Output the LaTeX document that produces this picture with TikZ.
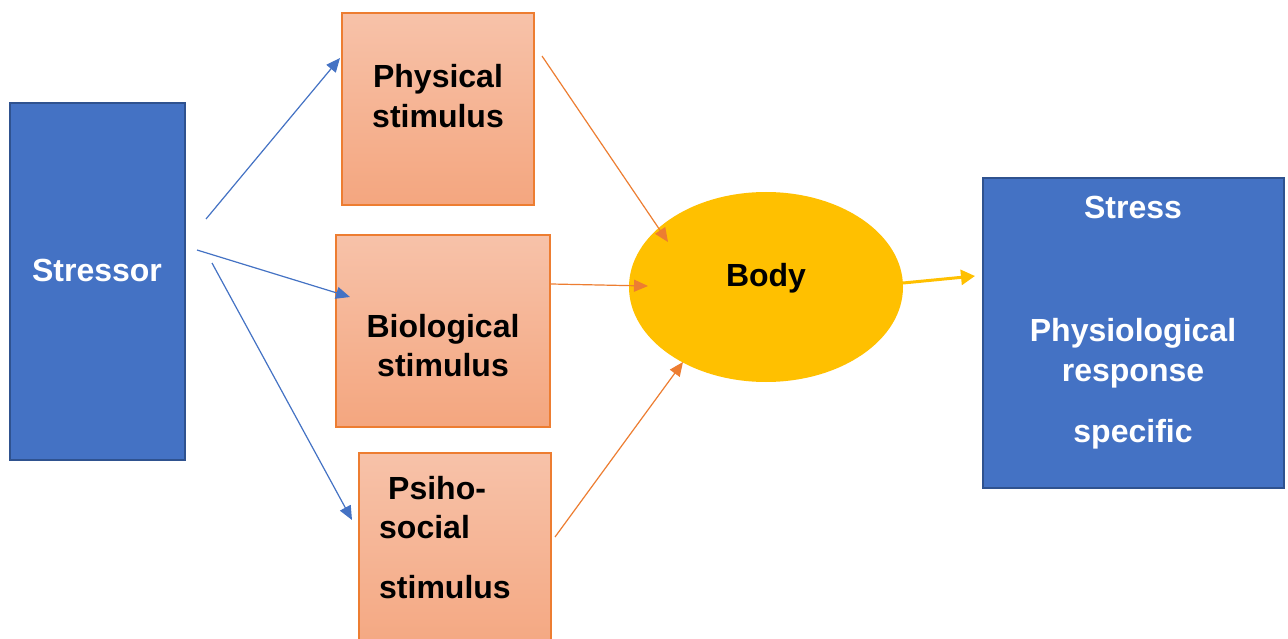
\documentclass[tikz,border=0pt]{standalone}
\usepackage{fontspec}
\setmainfont{Liberation Sans}
\usetikzlibrary{arrows.meta}
\definecolor{bfill}{HTML}{4472C4}
\definecolor{bdraw}{HTML}{2F528F}
\definecolor{otop}{HTML}{F7C2A9}
\definecolor{obot}{HTML}{F4A67F}
\definecolor{odraw}{HTML}{ED7D31}
\definecolor{yel}{HTML}{FFC000}
\tikzset{
  bluebox/.style={fill=bfill, draw=bdraw, line width=2pt},
  orbox/.style={top color=otop, bottom color=obot, draw=odraw, line width=1.5pt},
  lbl/.style={anchor=base, font=\bfseries\fontsize{32}{40}\selectfont, inner sep=0pt},
  lblw/.style={lbl, text=white},
  barrow/.style={draw=bfill, line width=1.2pt, -{Triangle[length=14pt,width=12pt]}},
  oarrow/.style={draw=odraw, line width=1.2pt, -{Triangle[length=14pt,width=12pt]}},
  yarrow/.style={draw=yel, line width=3pt, -{Triangle[length=14pt,width=15pt]}},
}
\begin{document}
\begin{tikzpicture}[x=1pt,y=-1pt]
\clip (0,0) rectangle (1288,639);
\fill[white] (0,0) rectangle (1288,639);
% boxes
\draw[bluebox] (10,103) rectangle (185,460);
\node[lblw] (stressor) at (97,281) {Stressor};
\draw[orbox] (342,13) rectangle (534,205);
\node[lbl] (phys1) at (438,88) {Physical};
\node[lbl] (phys2) at (438,128) {stimulus};
\draw[orbox] (336,235) rectangle (550,427);
\node[lbl] (bio1) at (443,337) {Biological};
\node[lbl] (bio2) at (443,376) {stimulus};
\draw[orbox] (359,453) rectangle (551,660);
\node[lbl,anchor=base west] (psi1) at (388,499) {Psiho-};
\node[lbl,anchor=base west] (psi2) at (379,538) {social};
\node[lbl,anchor=base west] (psi3) at (379,598) {stimulus};
\fill[yel] (766,287) ellipse [x radius=137, y radius=95];
\node[lbl] (body) at (766,287) {Body};
\draw[bluebox] (983,178) rectangle (1284,488);
\node[lblw] (st1) at (1133,219) {Stress};
\node[lblw] (st2) at (1133,341) {Physiological};
\node[lblw] (st3) at (1133,381) {response};
\node[lblw] (st4) at (1133,442) {specific};
% connector end points
\coordinate (b1s) at (206,219); \coordinate (b1e) at (340,58);
\coordinate (b2s) at (197,250); \coordinate (b2e) at (350,297);
\coordinate (b3s) at (212,263); \coordinate (b3e) at (352,520);
\coordinate (o1s) at (542,56);  \coordinate (o1e) at (668,242);
\coordinate (o2s) at (551,284); \coordinate (o2e) at (648,286);
\coordinate (o3s) at (555,537); \coordinate (o3e) at (683,362);
\coordinate (ys) at (903,283);  \coordinate (ye) at (975,276);
\draw[barrow] (b1s) -- (b1e);
\draw[barrow] (b2s) -- (b2e);
\draw[barrow] (b3s) -- (b3e);
\draw[oarrow] (o1s) -- (o1e);
\draw[oarrow] (o2s) -- (o2e);
\draw[oarrow] (o3s) -- (o3e);
\draw[yarrow] (ys) -- (ye);
\end{tikzpicture}
\end{document}
